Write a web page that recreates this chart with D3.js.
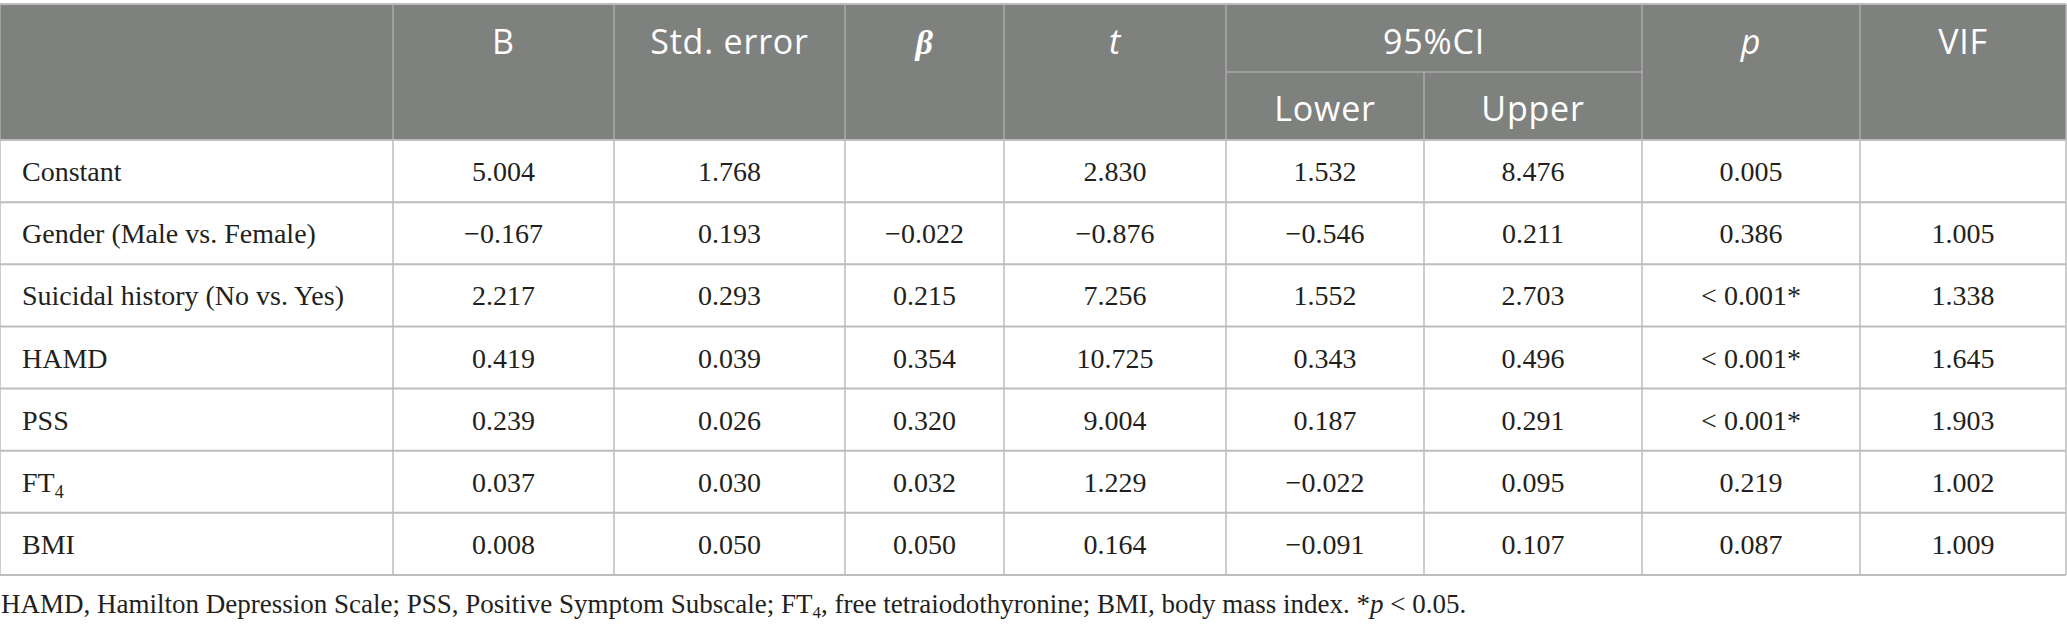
<!DOCTYPE html>
<html lang="en">
<head>
    <meta charset="UTF-8">
    <title>Regression table</title>
    <script src="https://d3js.org/d3.v7.min.js"></script>
    <style>
        body { margin: 0; background: #fff; }
        .hd { font-family: "Open Sans", sans-serif; font-size: 34px; fill: #fff; letter-spacing: 0.8px; }
        .cell { font-family: "Liberation Serif", serif; font-size: 28px; fill: #231f20; }
        .note { font-family: "Liberation Serif", serif; font-size: 27px; fill: #231f20; }
    </style>
</head>
<body>
<div id="chart"></div>
<script>
    var rowLabels = ["Constant", "Gender (Male vs. Female)", "Suicidal history (No vs. Yes)", "HAMD", "PSS", "FT4", "BMI"];
    var colB = ["5.004", "\u22120.167", "2.217", "0.419", "0.239", "0.037", "0.008"];
    var colSE = ["1.768", "0.193", "0.293", "0.039", "0.026", "0.030", "0.050"];
    var colBeta = ["", "\u22120.022", "0.215", "0.354", "0.320", "0.032", "0.050"];
    var colT = ["2.830", "\u22120.876", "7.256", "10.725", "9.004", "1.229", "0.164"];
    var colLower = ["1.532", "\u22120.546", "1.552", "0.343", "0.187", "\u22120.022", "\u22120.091"];
    var colUpper = ["8.476", "0.211", "2.703", "0.496", "0.291", "0.095", "0.107"];
    var colP = ["0.005", "0.386", "< 0.001*", "< 0.001*", "< 0.001*", "0.219", "0.087"];
    var colVIF = ["", "1.005", "1.338", "1.645", "1.903", "1.002", "1.009"];

    var columns = [colB, colSE, colBeta, colT, colLower, colUpper, colP, colVIF];

    var width = 2067, height = 629;
    // column edges in px (layout)
    var edges = [0, 393, 614, 845, 1004, 1226, 1424, 1642, 1860, 2066];
    var tableTop = 4, headMid = 72, headBottom = 140, tableBottom = 575;
    var tableRight = edges[edges.length - 1];

    var y = d3.scaleBand().domain(d3.range(rowLabels.length)).range([headBottom, tableBottom]);

    var svg = d3.select("#chart").append("svg")
        .attr("width", width)
        .attr("height", height);

    // header background
    svg.append("rect")
        .attr("x", 0).attr("y", tableTop)
        .attr("width", tableRight).attr("height", headBottom - tableTop)
        .attr("fill", "#7f817f");

    var lineCol = "#bdbdbd";
    var headLine = "#a9aaa9";

    // header vertical lines (the Lower/Upper split only in the lower half)
    edges.forEach(function (x, i) {
        svg.append("line").attr("x1", x).attr("x2", x)
            .attr("y1", i === 6 ? headMid : tableTop).attr("y2", headBottom)
            .attr("stroke", headLine).attr("stroke-width", 1.5);
    });
    svg.append("line").attr("x1", edges[5]).attr("x2", edges[7]).attr("y1", headMid).attr("y2", headMid)
        .attr("stroke", headLine).attr("stroke-width", 1.5);

    // header texts
    function colMid(i) { return (edges[i] + edges[i + 1]) / 2; }
    var heads = [
        {c: 1, t: "B"}, {c: 2, t: "Std. error"}, {c: 3, t: "\u03b2", beta: true}, {c: 4, t: "t", it: true},
        {c: 7, t: "p", it: true}, {c: 8, t: "VIF"}
    ];
    heads.forEach(function (h) {
        var tx = svg.append("text").attr("class", "hd")
            .attr("x", colMid(h.c)).attr("y", 54)
            .attr("text-anchor", "middle")
            .text(h.t);
        if (h.it) tx.style("font-style", "italic");
        if (h.beta) tx.style("font-family", "Liberation Serif, serif").style("font-style", "italic")
            .style("font-weight", "bold").style("font-size", "34px");
    });
    svg.append("text").attr("class", "hd").attr("x", (edges[5] + edges[7]) / 2).attr("y", 54)
        .attr("text-anchor", "middle").text("95%CI");
    svg.append("text").attr("class", "hd").attr("x", colMid(5)).attr("y", 121)
        .attr("text-anchor", "middle").text("Lower");
    svg.append("text").attr("class", "hd").attr("x", colMid(6)).attr("y", 121)
        .attr("text-anchor", "middle").text("Upper");

    // body grid
    var rowIdx = d3.range(rowLabels.length);
    svg.selectAll(".hline").data(rowIdx).enter().append("line")
        .attr("x1", 0).attr("x2", tableRight)
        .attr("y1", function (d) { return y(d) + y.bandwidth(); })
        .attr("y2", function (d) { return y(d) + y.bandwidth(); })
        .attr("stroke", lineCol).attr("stroke-width", 2);
    svg.append("line").attr("x1", 0).attr("x2", tableRight).attr("y1", headBottom).attr("y2", headBottom)
        .attr("stroke", lineCol).attr("stroke-width", 2);
    svg.append("line").attr("x1", 0).attr("x2", tableRight).attr("y1", tableTop).attr("y2", tableTop)
        .attr("stroke", lineCol).attr("stroke-width", 2);
    edges.forEach(function (x) {
        svg.append("line").attr("x1", x).attr("x2", x).attr("y1", headBottom).attr("y2", tableBottom)
            .attr("stroke", lineCol).attr("stroke-width", 1.5);
    });

    // row labels
    svg.selectAll(".lab").data(rowLabels).enter().append("text")
        .attr("class", "cell lab")
        .attr("x", 22)
        .attr("y", function (d, i) { return y(i) + y.bandwidth() / 2 + 10; })
        .each(function (d) {
            var t = d3.select(this);
            if (d === "FT4") {
                t.append("tspan").text("FT");
                t.append("tspan").attr("font-size", "18px").attr("dy", 6).text("4");
            } else {
                t.text(d);
            }
        });

    // values
    columns.forEach(function (col, ci) {
        svg.selectAll(".v" + ci).data(col).enter().append("text")
            .attr("class", "cell")
            .attr("x", colMid(ci + 1))
            .attr("y", function (d, i) { return y(i) + y.bandwidth() / 2 + 10; })
            .attr("text-anchor", "middle")
            .text(function (d) { return d; });
    });

    // footnote
    var note = svg.append("text").attr("class", "note").attr("x", 1).attr("y", 613);
    note.append("tspan").text("HAMD, Hamilton Depression Scale; PSS, Positive Symptom Subscale; FT");
    note.append("tspan").attr("font-size", "17px").attr("dy", 5).text("4");
    note.append("tspan").attr("dy", -5).text(", free tetraiodothyronine; BMI, body mass index. *");
    note.append("tspan").attr("font-style", "italic").text("p");
    note.append("tspan").text(" < 0.05.");
</script>
</body>
</html>
